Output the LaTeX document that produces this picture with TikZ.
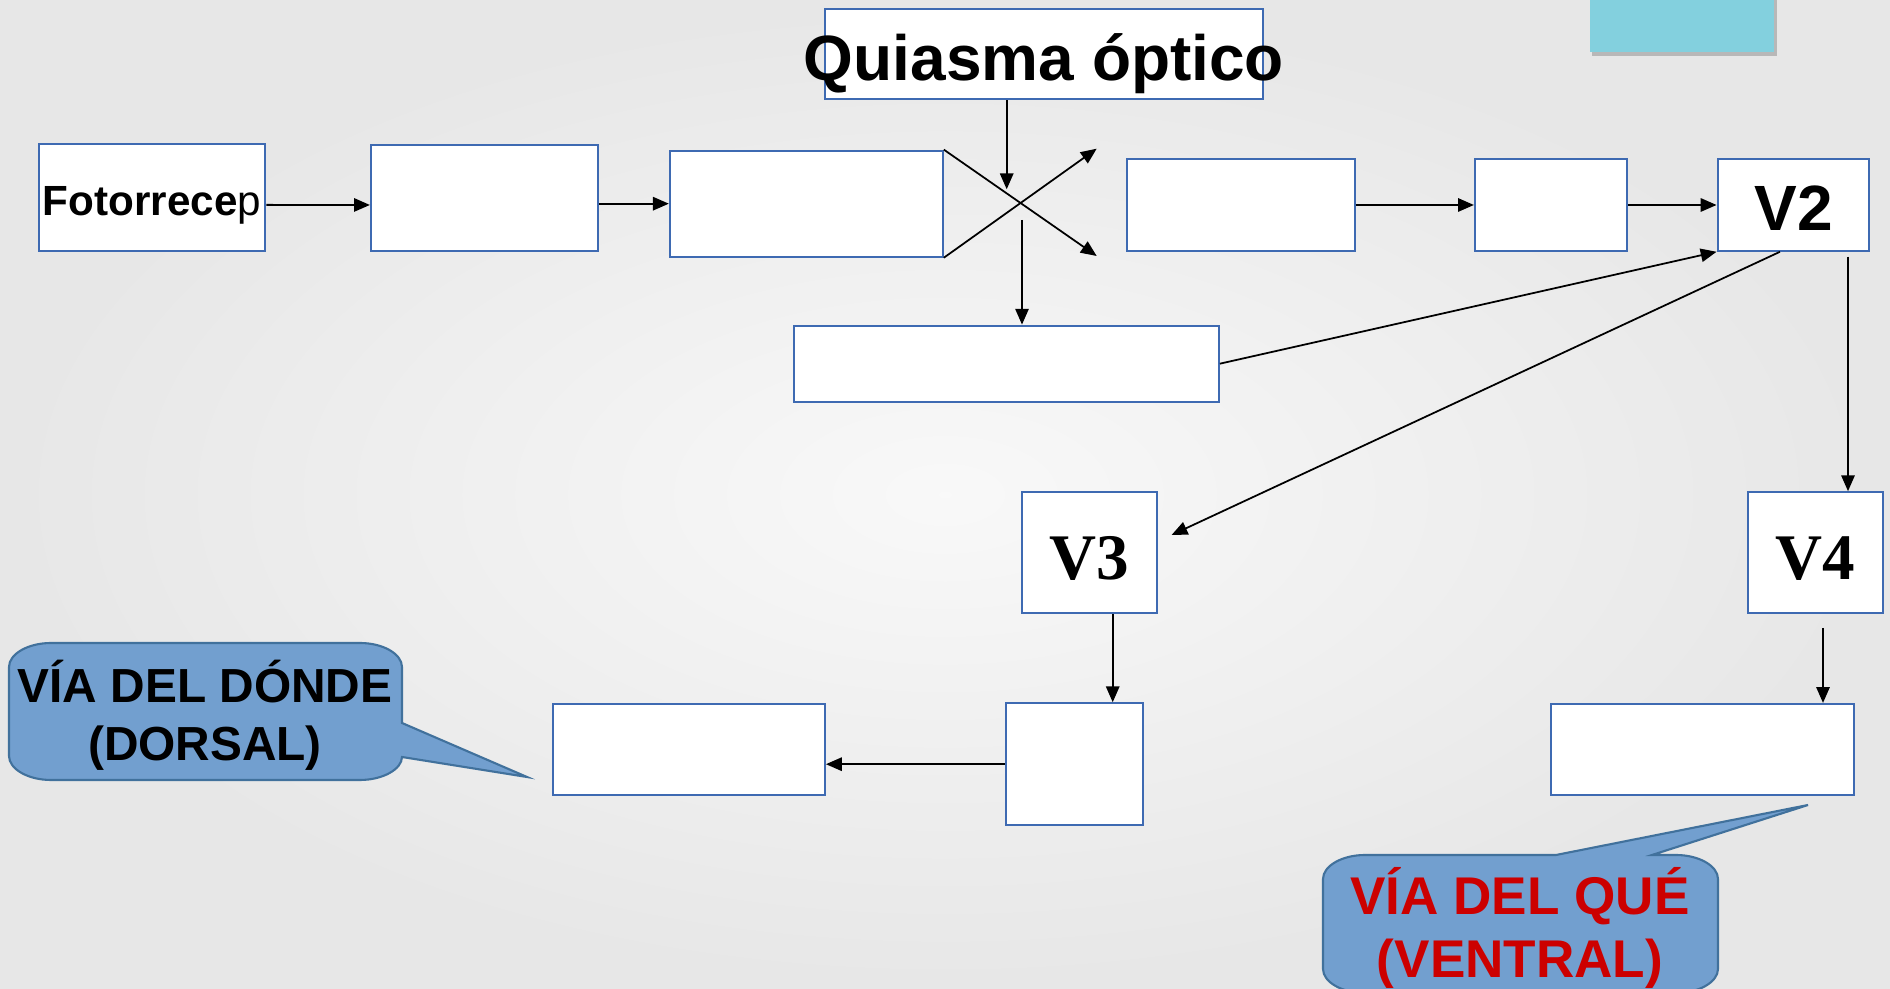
\documentclass[tikz,border=0pt]{standalone}
\usepackage{fontspec}
\setmainfont{Liberation Sans}
\newfontfamily\timesfont{Liberation Serif}
\usetikzlibrary{arrows.meta}
\definecolor{boxblue}{RGB}{62,106,178}
\definecolor{callfill}{RGB}{114,159,207}
\definecolor{calldraw}{RGB}{65,113,156}
\definecolor{tabcyan}{RGB}{131,208,222}
\definecolor{viared}{RGB}{204,0,0}

\begin{document}
\begin{tikzpicture}[x=0.01cm, y=-0.01cm]
	\tikzset{vbox/.style={draw=boxblue, fill=white, line width=0.6pt, inner sep=0pt}}
	\tikzset{varrow/.style={-{Triangle[length=4.5pt, width=3.8pt]}, line width=0.5pt}}
	\tikzset{vcall/.style={draw=calldraw, fill=callfill, line width=0.6pt}}

	\useasboundingbox (0,0) rectangle (1890,989);
	\clip (0,0) rectangle (1890,989);
	\shade[inner color=white!97.5!black, outer color=white!90.5!black] (0,0) rectangle (1890,989);

	% tab in the corner
	\fill[black, opacity=0.2] (1592,-5) rectangle (1777,56);
	\fill[tabcyan] (1589.7,-5) rectangle (1774,52.3);

	% callouts
	\draw[vcall] (51,643) -- (360,643) .. controls (383,643) and (402,654) .. (402,667)
		-- (402,723) -- (527,777) -- (402,757)
		.. controls (402,769) and (383,780) .. (360,780) -- (51,780)
		.. controls (28,780) and (9,769) .. (9,756) -- (9,667)
		.. controls (9,654) and (28,643) .. (51,643) -- cycle;
	\draw[vcall] (1365,855) -- (1556,855) -- (1808,805) -- (1652,855) -- (1676,855)
		.. controls (1699,855) and (1718,866) .. (1718,879) -- (1718,969)
		.. controls (1718,982) and (1699,993) .. (1676,993) -- (1365,993)
		.. controls (1342,993) and (1323,982) .. (1323,969) -- (1323,879)
		.. controls (1323,866) and (1342,855) .. (1365,855) -- cycle;
	\node[align=center, font=\fontsize{13.6}{16.4}\selectfont\bfseries] (dorsal) at (205,715)
		{VÍA DEL DÓNDE\\(DORSAL)};
	\node[align=center, text=viared, font=\fontsize{15.1}{18}\selectfont\bfseries] (ventral) at (1520,928)
		{VÍA DEL QUÉ\\(VENTRAL)};

	% boxes
	\node[vbox, minimum width=2.266cm, minimum height=1.063cm] (b1) at (152,197.5)
		{\fontsize{12}{14}\selectfont\raisebox{-5.2pt}[0pt][0pt]{\makebox[0pt]{\bfseries Fotorrece\mdseries p}}};
	\node[vbox, minimum width=2.27cm, minimum height=1.06cm] (b2) at (484.5,197.6) {};
	\node[vbox, minimum width=2.727cm, minimum height=1.06cm] (b3) at (806.3,203.7) {};
	\node[vbox, minimum width=4.38cm, minimum height=0.9cm] (q) at (1044,54)
		{\fontsize{18.2}{20}\selectfont\raisebox{-7.4pt}[0pt][0pt]{\makebox[0pt]{\bfseries Quiasma óptico}}};
	\node[vbox, minimum width=2.27cm, minimum height=0.914cm] (b4) at (1241,205) {};
	\node[vbox, minimum width=1.52cm, minimum height=0.914cm] (b5) at (1551,205) {};
	\node[vbox, minimum width=1.517cm, minimum height=0.914cm] (v2) at (1793.5,205)
		{\fontsize{18.2}{20}\selectfont\bfseries\raisebox{-7.3pt}[0pt][0pt]{V2}};
	\node[vbox, minimum width=4.244cm, minimum height=0.76cm] (b8) at (1006.5,363.7) {};
	\node[vbox, minimum width=1.353cm, minimum height=1.21cm] (v3) at (1089.4,552.8)
		{\fontsize{18.5}{20}\selectfont\timesfont\bfseries\raisebox{-7.5pt}[0pt][0pt]{V3}};
	\node[vbox, minimum width=1.35cm, minimum height=1.21cm] (v4) at (1815.5,552.8)
		{\fontsize{18.5}{20}\selectfont\timesfont\bfseries\raisebox{-7.5pt}[0pt][0pt]{V4}};
	\node[vbox, minimum width=1.367cm, minimum height=1.217cm] (b9) at (1074.4,764.2) {};
	\node[vbox, minimum width=2.72cm, minimum height=0.91cm] (b10) at (688.8,749.5) {};
	\node[vbox, minimum width=3.03cm, minimum height=0.91cm] (b11) at (1702.5,749.5) {};

	% connectors
	\coordinate (c1) at (1096.7,256);
	\coordinate (c2) at (1096.7,148.7);
	\coordinate (k1) at (1006.7,189.3);
	\coordinate (k2) at (1022,220);
	\coordinate (k3) at (1171.6,535);
	\coordinate (k4) at (1848,256.7);
	\coordinate (k6) at (1823,628);

	\draw[varrow] ([yshift=-2.1pt]b1.east) -- ([yshift=-2.1pt]b2.west);
	\draw[varrow] (b2.east |- b3.west) -- (b3.west);
	\draw[varrow] (b3.north east) -- (c1);
	\draw[varrow] (b3.south east) -- (c2);
	\draw[varrow] (k1 |- q.south) -- (k1);
	\draw[varrow] (k2) -- (k2 |- b8.north);
	\draw[varrow] (b4.east) -- (b5.west);
	\draw[varrow] (b5.east) -- (v2.west);
	\draw[varrow] (b8.east) -- (v2.south west);
	\draw[varrow] ([xshift=-0.135cm]v2.south) -- (k3);
	\draw[varrow] (k4) -- (k4 |- v4.north);
	\draw[varrow] ([xshift=0.233cm]v3.south) -- ([xshift=0.233cm]v3.south |- b9.north);
	\draw[varrow] (b9.west) -- (b9.west -| b10.east);
	\draw[varrow] (k6) -- (k6 |- b11.north);
\end{tikzpicture}
\end{document}
